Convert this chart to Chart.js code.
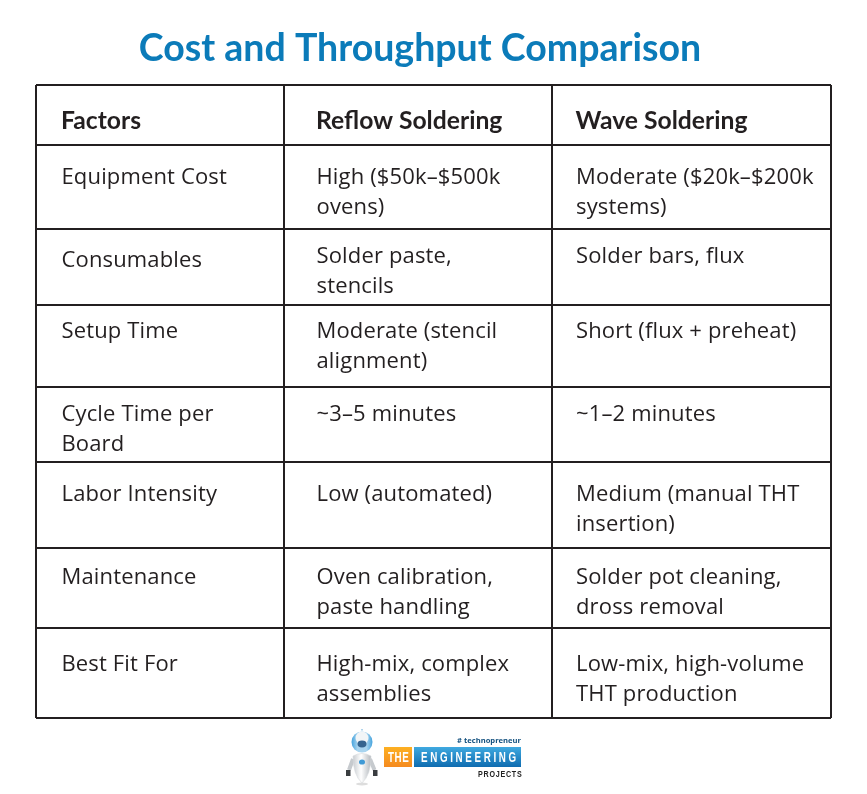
<!DOCTYPE html>
<html><head><meta charset="utf-8">
<script src="https://cdn.jsdelivr.net/npm/chart.js@4/dist/chart.umd.min.js"></script>
<style>html,body{margin:0;padding:0;background:#fff}canvas{display:block}</style>
</head><body><canvas id="c" width="867" height="794"></canvas>
<script>
const titleText = "Cost and Throughput Comparison";
const headers = ["Factors", "Reflow Soldering", "Wave Soldering"];
const factors = [["Equipment Cost"],["Consumables"],["Setup Time"],["Cycle Time per","Board"],["Labor Intensity"],["Maintenance"],["Best Fit For"]];
const reflow = [["High ($50k–$500k","ovens)"],["Solder paste,","stencils"],["Moderate (stencil","alignment)"],["~3–5 minutes"],["Low (automated)"],["Oven calibration,","paste handling"],["High-mix, complex","assemblies"]];
const wave = [["Moderate ($20k–$200k","systems)"],["Solder bars, flux"],["Short (flux + preheat)"],["~1–2 minutes"],["Medium (manual THT","insertion)"],["Solder pot cleaning,","dross removal"],["Low-mix, high-volume","THT production"]];

// table geometry: axis tick positions and cell text anchors
const columnEdges = [36, 284, 552, 831];
const rowEdges = [85, 145, 229, 305, 387, 462, 548, 628, 718];
const columnTextX = [61.5, 316.5, 576];
const headerBaselines = [129, 129, 129];
const factorBaselines = [184, 267, 338, 421, 501, 584, 671];
const reflowBaselines = [184, 263, 338, 421, 501, 584, 671];
const waveBaselines = [184, 263, 338, 421, 501, 584, 671];
const lineGap = 30;

const INK = "#231f20", BLUE = "#0b7bb9";
const BODY = "22px 'Open Sans'", HEAD = "bold 24.7px Lato";

function anchors(col, base) { return base.map(y => ({ x: columnTextX[col], y })); }

const titleShift = {
  id: "titleShift",
  beforeDraw(chart) {
    chart.titleBlock.left = 0;
    chart.titleBlock.right = 840;
  }
};

const cellText = {
  id: "cellText",
  afterDatasetsDraw(chart) {
    const { ctx, scales: { y } } = chart;
    const columns = [factors, reflow, wave];
    ctx.save();
    ctx.fillStyle = INK; ctx.textAlign = "left"; ctx.textBaseline = "alphabetic";
    ctx.font = HEAD;
    chart.getDatasetMeta(3).data.forEach((p, i) => ctx.fillText(headers[i], p.x - 0.5, p.y));
    ctx.font = BODY;
    ctx.letterSpacing = "0.15px";
    columns.forEach((rows, c) => {
      const data = chart.data.datasets[c].data;
      rows.forEach((lines, r) => lines.forEach((t, k) => {
        ctx.fillText(t, chart.getDatasetMeta(c).data[r].x, y.getPixelForValue(data[r].y + k * lineGap));
      }));
    });
    ctx.restore();
  }
};

function squeezed(ctx, text, x, y, sx, spacing) {
  ctx.save();
  ctx.translate(x, y);
  ctx.scale(sx, 1);
  ctx.letterSpacing = spacing + "px";
  ctx.fillText(text, 0, 0);
  ctx.restore();
}

const logo = {
  id: "logo",
  afterDraw(chart) {
    const ctx = chart.ctx;
    ctx.save();
    // robot
    ctx.fillStyle = "rgba(120,120,120,0.25)";
    ctx.beginPath(); ctx.ellipse(362, 784, 6, 1.5, 0, 0, 7); ctx.fill();
    ctx.strokeStyle = "#c6cace"; ctx.lineWidth = 4;
    ctx.beginPath(); ctx.moveTo(353, 759); ctx.lineTo(349, 770); ctx.moveTo(370, 759); ctx.lineTo(374.5, 770); ctx.stroke();
    ctx.fillStyle = "#3a3d40";
    ctx.fillRect(346, 770, 4.5, 6); ctx.fillRect(373, 770, 4.5, 6);
    const g = ctx.createLinearGradient(353, 0, 371, 0); g.addColorStop(0, "#c9cdd1"); g.addColorStop(0.45, "#ffffff"); g.addColorStop(1, "#b4b9be");
    ctx.fillStyle = g;
    ctx.beginPath(); ctx.moveTo(353, 756); ctx.quadraticCurveTo(362, 751, 371, 756); ctx.quadraticCurveTo(371, 775, 362, 783); ctx.quadraticCurveTo(353, 775, 353, 756); ctx.fill();
    ctx.strokeStyle = "#d5d8db"; ctx.lineWidth = 0.6; ctx.stroke();
    ctx.fillStyle = "#3f9ad6";
    ctx.beginPath(); ctx.ellipse(362, 762, 3, 2.6, 0, 0, 7); ctx.fill();
    const h = ctx.createLinearGradient(351, 0, 373, 0); h.addColorStop(0, "#3c9fdc"); h.addColorStop(0.3, "#a8d4ef"); h.addColorStop(0.7, "#a8d4ef"); h.addColorStop(1, "#3c9fdc");
    ctx.fillStyle = h;
    ctx.beginPath(); ctx.ellipse(362, 742, 10.5, 10.5, 0, 0, 7); ctx.fill();
    ctx.fillStyle = "#f2f5f7";
    ctx.beginPath(); ctx.ellipse(362, 738, 6.5, 6.5, 0, 0, 7); ctx.fill();
    ctx.fillStyle = "#35648f";
    ctx.beginPath(); ctx.ellipse(362, 744, 4.5, 3.4, 0, 0, 7); ctx.fill();
    ctx.fillStyle = "#5fa8d8"; ctx.fillRect(361.5, 729, 1, 1.5);
    // brand boxes
    const o = ctx.createLinearGradient(0, 747, 0, 767); o.addColorStop(0, "#fdb022"); o.addColorStop(1, "#f58a1f");
    ctx.fillStyle = o; ctx.fillRect(384, 747, 28, 20);
    const b = ctx.createLinearGradient(0, 747, 0, 767); b.addColorStop(0, "#3fa9e0"); b.addColorStop(1, "#0f6cb0");
    ctx.fillStyle = b; ctx.fillRect(414, 747, 107, 20);
    ctx.textBaseline = "alphabetic"; ctx.textAlign = "left";
    ctx.fillStyle = "#fff";
    ctx.font = "bold 14px 'Liberation Sans'";
    squeezed(ctx, "THE", 388, 762, 0.7, 0.8);
    squeezed(ctx, "ENGINEERING", 421, 762, 0.7, 3.8);
    ctx.textAlign = "right";
    ctx.fillStyle = "#12507f"; ctx.letterSpacing = "0px";
    ctx.font = "bold 7.6px 'Open Sans'";
    ctx.fillText("# technopreneur", 521, 743);
    ctx.fillStyle = "#222"; ctx.textAlign = "left";
    ctx.font = "bold 9.5px 'Liberation Sans'";
    squeezed(ctx, "PROJECTS", 478, 777, 0.75, 1);
    ctx.restore();
  }
};

const hiddenPoints = { pointRadius: 0, pointHoverRadius: 0, showLine: false };

new Chart(document.getElementById("c"), {
  type: "scatter",
  data: { datasets: [
    { label: "Factors", data: anchors(0, factorBaselines), ...hiddenPoints },
    { label: "Reflow Soldering", data: anchors(1, reflowBaselines), ...hiddenPoints },
    { label: "Wave Soldering", data: anchors(2, waveBaselines), ...hiddenPoints },
    { label: "Header", data: columnTextX.map((x, i) => ({ x, y: headerBaselines[i] })), ...hiddenPoints }
  ]},
  options: {
    responsive: false, animation: false, devicePixelRatio: 1,
    layout: { padding: { left: 36, right: 36, top: 0, bottom: 76 } },
    events: [],
    scales: {
      x: {
        type: "linear", min: columnEdges[0], max: columnEdges[3],
        afterBuildTicks: a => { a.ticks = columnEdges.map(value => ({ value })); },
        ticks: { display: false },
        border: { display: false },
        grid: { color: INK, lineWidth: 2, drawTicks: false }
      },
      y: {
        type: "linear", reverse: true, min: rowEdges[0], max: rowEdges[8],
        afterBuildTicks: a => { a.ticks = rowEdges.map(value => ({ value })); },
        ticks: { display: false },
        border: { display: false },
        grid: { color: INK, lineWidth: 2, drawTicks: false }
      }
    },
    plugins: {
      legend: { display: false },
      tooltip: { enabled: false },
      title: {
        display: true, text: titleText, color: BLUE,
        font: { family: "Lato", weight: "bold", size: 37.5, lineHeight: 1.2 },
        padding: { top: 26, bottom: 14 }
      }
    }
  },
  plugins: [titleShift, cellText, logo]
});
</script></body></html>
